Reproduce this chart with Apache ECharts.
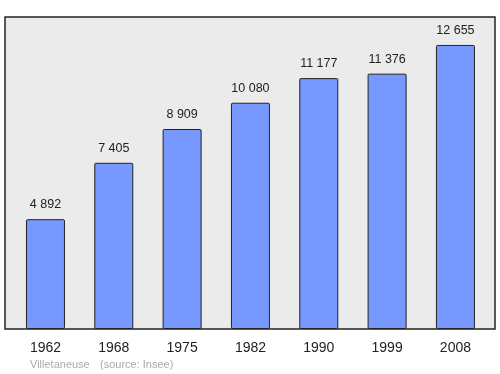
<!DOCTYPE html>
<html><head><meta charset="utf-8">
<script src="https://cdn.jsdelivr.net/npm/echarts@6/dist/echarts.min.js"></script>
<style>html,body{margin:0;padding:0;background:#fff}#c{width:500px;height:374px}</style>
</head><body><div id="c"></div>
<script>
const years = ['1962','1968','1975','1982','1990','1999','2008'];
const population = [4892, 7405, 8909, 10080, 11177, 11376, 12655];
const footerName = 'Villetaneuse';
const footerSource = '(source: Insee)';
const fmt = v => String(v).replace(/\B(?=(\d{3})+(?!\d))/g, ' ');
const FONT = 'Liberation Sans, Arial, sans-serif';
const chart = echarts.init(document.getElementById('c'));
chart.setOption({
  animation: false,
  textStyle: {fontFamily: FONT},
  grid: [
    {left: 5, right: 5, top: 17, bottom: 45, show: true, backgroundColor: '#ebebeb', borderColor: '#222', borderWidth: 1.5, z: 0},
    {left: 11.3, right: 10.4, top: 17, bottom: 45}
  ],
  xAxis: [
    {gridIndex: 0, type: 'value', show: false},
    {gridIndex: 1, type: 'category', data: years, axisLine: {show: false}, axisTick: {show: false},
     axisLabel: {fontSize: 14, color: '#222', margin: 12, fontFamily: FONT}}
  ],
  yAxis: [
    {gridIndex: 0, type: 'value', show: false},
    {gridIndex: 1, type: 'value', min: 0, max: 13900, show: false}
  ],
  series: [{
    type: 'bar', xAxisIndex: 1, yAxisIndex: 1, data: population, barWidth: 39,
    itemStyle: {color: '#7799ff', borderColor: '#222', borderWidth: 1, borderRadius: 1},
    label: {show: true, position: 'top', distance: 8, fontSize: 12.5, color: '#222', fontFamily: FONT, formatter: p => fmt(p.value)}
  }],
  graphic: [
    {type: 'text', left: 30, top: 359, style: {text: footerName, fill: '#aaa', fontSize: 11, fontFamily: FONT}},
    {type: 'text', left: 100, top: 359, style: {text: footerSource, fill: '#aaa', fontSize: 11, fontFamily: FONT}}
  ]
});
</script></body></html>
